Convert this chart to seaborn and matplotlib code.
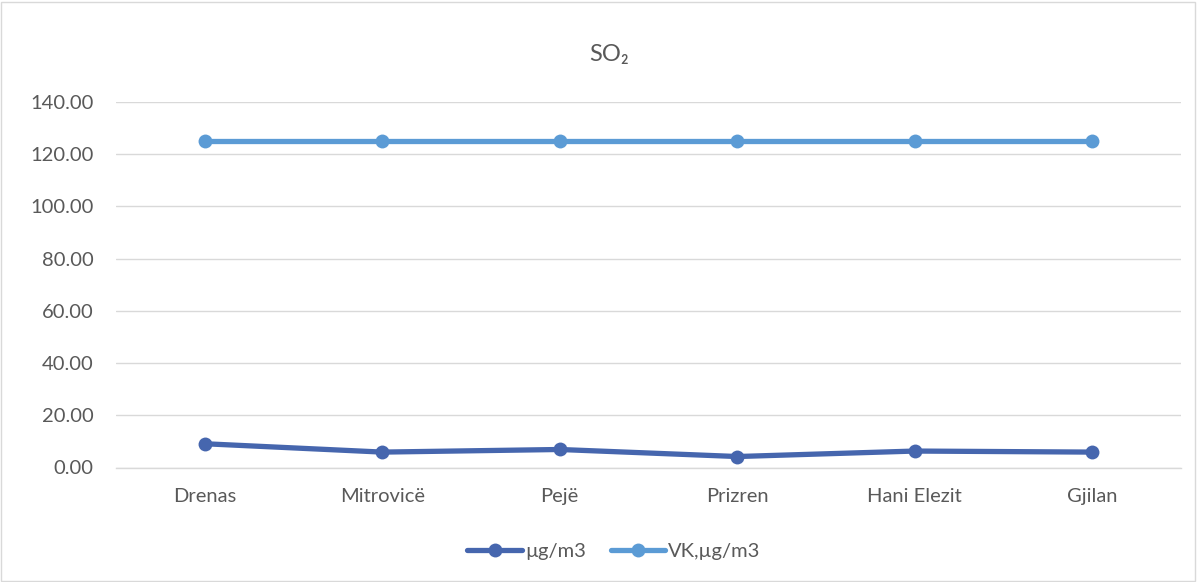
import matplotlib
matplotlib.use("Agg")
import matplotlib.pyplot as plt
import seaborn as sns
import pandas as pd
from matplotlib.patches import Rectangle

cities = ["Drenas", "Mitrovicë", "Pejë", "Prizren", "Hani Elezit", "Gjilan"]
so2_values = [9.1, 5.9, 6.9, 4.2, 6.3, 5.9]
vk_values = [125, 125, 125, 125, 125, 125]
series_names = ["µg/m3", "VK,µg/m3"]
y_ticks = [0, 20, 40, 60, 80, 100, 120, 140]

df = pd.DataFrame({
    "city": cities * 2,
    "x": list(range(len(cities))) * 2,
    "value": so2_values + vk_values,
    "series": [series_names[0]] * len(cities) + [series_names[1]] * len(cities),
})

sns.set_theme(style="white")
plt.rcParams["font.family"] = ["Lato", "DejaVu Sans"]

fig = plt.figure(figsize=(11.97, 5.82), dpi=100)
ax = fig.add_axes([116 / 1197, 1 - 467.5 / 582, (1181 - 116) / 1197, (467.5 - 102) / 582])

palette = {series_names[0]: "#4666AE", series_names[1]: "#5B9BD5"}
sns.lineplot(data=df, x="x", y="value", hue="series", palette=palette, marker="o",
             markersize=10, linewidth=3.8, markeredgewidth=0, ax=ax, legend=True)

ax.set_xlim(-0.5, len(cities) - 0.5)
ax.set_ylim(0, 140)
ax.set_yticks(y_ticks)
ax.set_yticklabels([f"{v:.2f}" for v in y_ticks])
ax.set_xticks(range(len(cities)))
ax.set_xticklabels(cities)
ax.set_xlabel("")
ax.set_ylabel("")
ax.grid(axis="y", color="#D9D9D9", linewidth=1)
ax.set_axisbelow(True)
for s in ["top", "right", "left"]:
    ax.spines[s].set_visible(False)
ax.spines["bottom"].set_color("#D9D9D9")
ax.spines["bottom"].set_linewidth(1)
ax.tick_params(axis="both", length=0, colors="#595959", labelsize=14.5)
ax.tick_params(axis="x", pad=15)
ax.tick_params(axis="y", pad=16)

fig.text(609 / 1197, 1 - 54 / 582, "SO₂", ha="center", va="center", fontsize=17, color="#595959")

handles, labels = ax.get_legend_handles_labels()
ax.legend(handles, labels, loc="center", bbox_to_anchor=(614 / 1197, 1 - 551 / 582),
          bbox_transform=fig.transFigure, ncol=2, frameon=False, fontsize=14.5,
          handlelength=2.7, columnspacing=1.25, handletextpad=0.15, labelcolor="#595959")

fig.patches.append(Rectangle((1 / 1197, 1 / 582), 1 - 3 / 1197, 1 - 3 / 582, transform=fig.transFigure,
                             fill=False, edgecolor="#D9D9D9", linewidth=1))

fig.savefig("out.png", dpi=100, facecolor="white")
